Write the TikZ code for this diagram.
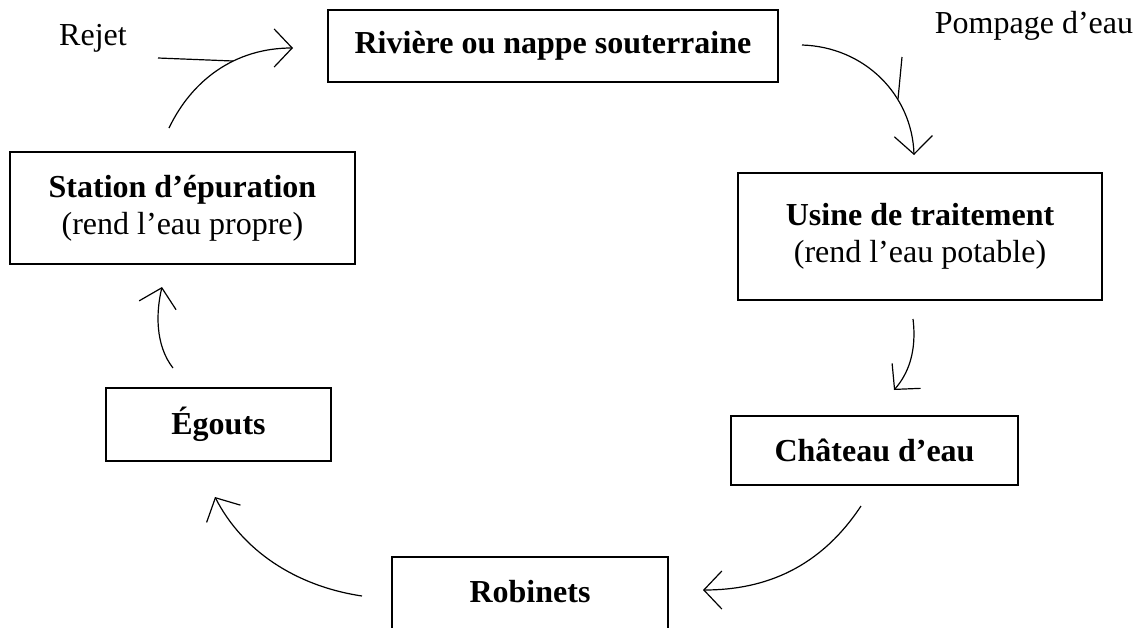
\documentclass[tikz,border=0pt]{standalone}
\usepackage{fontspec}
\setmainfont{Liberation Serif}
\usetikzlibrary{arrows.meta}
\begin{document}
\begin{tikzpicture}[x=0.5pt,y=-0.5pt,
  box/.style={draw, line width=1.3pt, inner sep=0pt, align=center,
    font=\fontsize{16}{18.5}\selectfont},
  flow/.style={line width=0.6pt, -{Straight Barb[length=9pt,width=19pt]}},
  lead/.style={line width=0.6pt},
  lbl/.style={font=\fontsize{16}{18.5}\selectfont, anchor=base, inner sep=0pt}]
\useasboundingbox (0,0) rectangle (1140,627);
\clip (0,0) rectangle (1140,627);

\node[box, minimum width=225pt, minimum height=36pt] (riv) at (553,46) {\textbf{Rivière ou nappe souterraine}};
\node[box, minimum width=172.5pt, minimum height=56pt] (sta) at (182.5,208) {\textbf{Station d’épuration}\\(rend l’eau propre)};
\node[box, minimum width=182pt, minimum height=63.5pt] (usi) at (920,236.5) {\textbf{Usine de traitement}\\(rend l’eau potable)};
\node[box, minimum width=143.5pt, minimum height=34.5pt] (cha) at (874.5,450.5) {\textbf{Château d’eau}};
\node[box, minimum width=112.5pt, minimum height=36.5pt] (ego) at (218.5,424.5) {\textbf{Égouts}};
\node[box, minimum width=138pt, minimum height=45pt, text height=5pt, text depth=5pt] (rob) at (530,602) {\textbf{Robinets}};

\node[lbl] (rejet) at (93,45) {Rejet};
\node[lbl] (pompage) at (1034,33) {Pompage d’eau};

% arrow end points
\coordinate (a1s) at (169,128); \coordinate (a1e) at (293,48);
\coordinate (a2s) at (802,45);  \coordinate (a2e) at (914,155);
\coordinate (a3s) at (913,319); \coordinate (a3e) at (894,390);
\coordinate (a4s) at (861,506); \coordinate (a4e) at (703,590);
\coordinate (a5s) at (362,596); \coordinate (a5e) at (215,497);
\coordinate (a6s) at (173,368); \coordinate (a6e) at (162,287);
\coordinate (r1) at (158,58);  \coordinate (r2) at (233,61);
\coordinate (p1) at (902,57);  \coordinate (p2) at (898,99);

\draw[flow] (a1s) .. controls (192,80) and (235,48) .. (a1e);
\draw[flow] (a2s) .. controls (865,47) and (912,95) .. (a2e);
\draw[flow] (a3s) .. controls (917,352) and (908,374) .. (a3e);
\draw[flow] (a4s) .. controls (820,568) and (765,590) .. (a4e);
\draw[flow] (a5s) .. controls (295,586) and (242,550) .. (a5e);
\draw[flow] (a6s) .. controls (155,345) and (156,312) .. (a6e);

\draw[lead] (r1) -- (r2);
\draw[lead] (p1) -- (p2);
\end{tikzpicture}
\end{document}
